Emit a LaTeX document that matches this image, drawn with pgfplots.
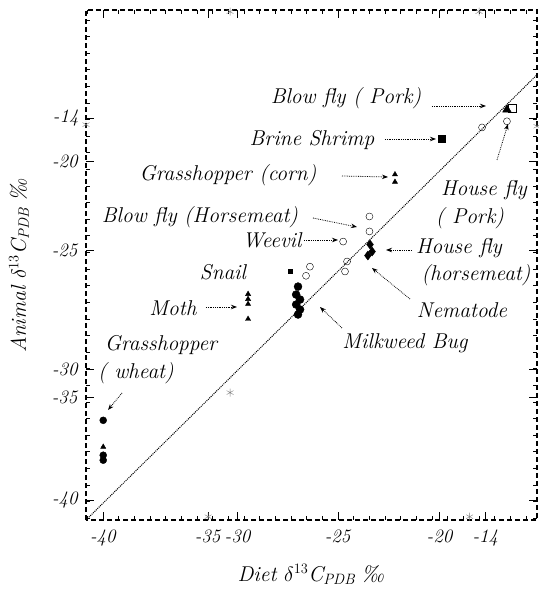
\documentclass[border=0pt]{standalone}
\usepackage{fontspec}
\usepackage{pgfplots}
\pgfplotsset{compat=1.18}
\usetikzlibrary{arrows.meta}
\newcommand{\lab}{\fontsize{21.5}{25}\selectfont\itshape}
\begin{document}
\begin{tikzpicture}
\begin{axis}[
  width=451bp, height=510bp, scale only axis,
  xmin=-41.1, xmax=-12.3, ymin=-41.1, ymax=-10.4,
  axis line style={dash pattern=on 5bp off 3bp, line width=1.3pt},
  tick align=inside,
  major tick length=8bp, minor tick length=4bp,
  every tick/.style={black, line width=0.9pt},
  xtick={-40,-33.3,-31.4,-25,-18.5,-15.6},
  xticklabels={\textit{-40},\textit{-35},\textit{-30},\textit{-25},\textit{-20},\textit{-14}},
  ytick={-39.9,-33.7,-32.05,-24.9,-19.5,-16.9},
  yticklabels={\textit{-40},\textit{-35},\textit{-30},\textit{-25},\textit{-20},\textit{-14}},
  minor xtick={-41,-40,...,-13},
  minor ytick={-41,-40,...,-11},
  ticklabel style={font=\fontsize{19}{22}\selectfont},
  xticklabel style={yshift=-6bp},
  yticklabel style={xshift=-4bp},
  xlabel={\lab Diet $\delta^{13}$C$_{\mathit{PDB}}$ ‰},
  ylabel={\lab Animal $\delta^{13}$C$_{\mathit{PDB}}$ ‰},
  xlabel style={yshift=-12bp},
  ylabel style={yshift=16bp},
  clip=false,
]
% 1:1 line
\addplot[densely dotted, line width=1pt, black] coordinates {(-41.1,-41.1) (-12.3,-14.3)};
% artefact asterisks
\addplot[only marks, mark=asterisk, mark size=4bp, gray] coordinates {(-31.9,-33.43) (-31.9,-10.5) (-16.0,-10.5) (-41.1,-17.3) (-12.3,-17.4) (-33.3,-40.9) (-16.6,-40.9)};
% Grasshopper (wheat)
\addplot[only marks, mark=*, mark size=3.5bp, black] coordinates {(-40,-35.1) (-40,-37.2) (-40,-37.5)};
\addplot[only marks, mark=triangle*, mark size=3bp, black] coordinates {(-40,-36.7)};
% Moth
\addplot[only marks, mark=triangle*, mark size=3bp, black] coordinates {(-30.75,-27.5) (-30.75,-28.1) (-30.75,-29.0) (-30.75,-27.8)};
% Snail
\addplot[only marks, mark=square*, mark size=2bp, black] coordinates {(-28.07,-26.14)};
\addplot[only marks, mark=o, mark size=3.5bp, black] coordinates {(-26.8,-25.85) (-27.05,-26.4)};
% Milkweed bug
\addplot[only marks, mark=*, mark size=4bp, black] coordinates {(-27.56,-27.05) (-27.68,-27.53) (-27.43,-27.83) (-27.68,-28.13) (-27.43,-28.43) (-27.56,-28.73)};
% Nematode
\addplot[only marks, mark=o, mark size=3.5bp, black] coordinates {(-24.43,-25.54) (-24.56,-26.14)};
% House fly (horsemeat)
\addplot[only marks, mark=diamond*, mark size=4.5bp, black] coordinates {(-22.96,-24.52) (-22.83,-24.94) (-23.1,-25.18)};
% Blow fly (horsemeat)
\addplot[only marks, mark=o, mark size=3.5bp, black] coordinates {(-23.0,-22.83) (-23.0,-23.73)};
% Weevil
\addplot[only marks, mark=o, mark size=3.5bp, black] coordinates {(-24.68,-24.34)};
% Grasshopper (corn)
\addplot[only marks, mark=triangle*, mark size=3bp, black] coordinates {(-21.37,-20.3) (-21.37,-20.75)};
% Brine shrimp
\addplot[only marks, mark=square*, mark size=3.5bp, black] coordinates {(-18.37,-18.13)};
% Blow fly (pork)
\addplot[only marks, mark=triangle*, mark size=5bp, black] coordinates {(-14.22,-16.4)};
\addplot[only marks, mark=square, mark size=4bp, black] coordinates {(-13.9,-16.3)};
% House fly (pork)
\addplot[only marks, mark=o, mark size=3.5bp, black] coordinates {(-15.81,-17.47) (-14.22,-17.1)};
\end{axis}
\begin{scope}[x=1bp, y=-1bp, shift={(-86bp,520bp)}, font=\lab,
  arr/.style={densely dotted, line width=0.8pt, -{Stealth[length=6bp]}}]
\node at (346,98) {Blow fly ( Pork)};
\draw[arr] (432,106) -- (486,106);
\node at (312,140) {Brine Shrimp};
\draw[arr] (385,139) -- (436,139);
\node at (228,175) {Grasshopper (corn)};
\draw[arr] (342,176) -- (388,177);
\node at (200,217) {Blow fly (Horsemeat)};
\draw[arr] (313,218) -- (357,227);
\node at (272,240) {Weevil};
\draw[arr] (304,240) -- (338,240);
\node at (223,272) {Snail};
\node at (173,308) {Moth};
\draw[arr] (206,307) -- (237,307);
\node at (161,345) {Grasshopper};
\node at (136,373) {( wheat)};
\draw[arr] (122,393) -- (108,410);
\node at (459,248) {House fly};
\node at (476,275) {(horsemeat)};
\draw[arr] (412,250) -- (386,250);
\node at (484,190) {House fly};
\node at (470,218) {( Pork)};
\draw[arr] (497,160) -- (508,124);
\node at (462,310) {Nematode};
\draw[arr] (410,299) -- (372,268);
\node at (405,343) {Milkweed Bug};
\draw[arr] (342,328) -- (320,307);
\end{scope}
\pgfresetboundingbox
\path (-86bp,-70bp) rectangle (453bp,520bp);
\end{tikzpicture}
\end{document}
